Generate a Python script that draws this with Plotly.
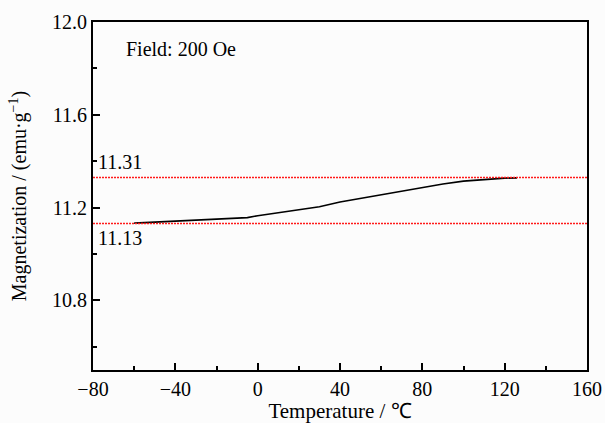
import plotly.graph_objects as go

temperature = [-60, -50, -40, -30, -20, -10, -5, 0, 10, 20, 30, 40, 50, 60, 70, 80, 90, 100, 110, 120, 126]
magnetization = [11.133, 11.137, 11.140, 11.144, 11.148, 11.154, 11.157, 11.165, 11.178, 11.189,
                 11.204, 11.224, 11.240, 11.257, 11.273, 11.289, 11.302, 11.314, 11.322, 11.327, 11.328]
ref_levels = [11.33, 11.131]
ref_labels = ["11.31", "11.13"]
field_label = "Field: 200 Oe"

font_family = "Liberation Serif"

fig = go.Figure()
fig.add_trace(go.Scatter(x=temperature, y=magnetization, mode="lines",
                         line=dict(color="black", width=1.6), showlegend=False))

for lvl in ref_levels:
    fig.add_shape(type="line", xref="paper", x0=0, x1=1, yref="y", y0=lvl, y1=lvl,
                  line=dict(color="#ff1a1a", width=1.5, dash="2px,1px"))

fig.add_annotation(x=-78.5, y=ref_levels[0], text=ref_labels[0], showarrow=False,
                   xanchor="left", yanchor="bottom", yshift=2,
                   font=dict(family=font_family, size=20, color="black"))
fig.add_annotation(x=-78.5, y=ref_levels[1], text=ref_labels[1], showarrow=False,
                   xanchor="left", yanchor="top", yshift=-1,
                   font=dict(family=font_family, size=20, color="black"))
fig.add_annotation(xref="paper", yref="paper", x=0.063, y=0.96, text=field_label,
                   showarrow=False, xanchor="left", yanchor="top",
                   font=dict(family=font_family, size=20, color="black"))

axis_common = dict(showline=True, linecolor="black", linewidth=2, mirror=True,
                   ticks="inside", ticklen=7, tickwidth=2, tickcolor="black",
                   showgrid=False, zeroline=False, automargin=False,
                   tickfont=dict(family=font_family, size=20, color="black"))

fig.update_xaxes(range=[-80, 160], tickmode="linear", tick0=-80, dtick=40,
                 minor=dict(ticks="inside", ticklen=4, tickwidth=1.5, tickcolor="black", dtick=20),
                 title=dict(text="Temperature / ℃", standoff=4,
                            font=dict(family=font_family, size=21, color="black")),
                 **axis_common)
fig.update_yaxes(range=[10.5, 12.0], tickmode="linear", tick0=0.4, dtick=0.4, tickformat=".1f",
                 minor=dict(ticks="inside", ticklen=4, tickwidth=1.5, tickcolor="black", dtick=0.2),
                 title=dict(text="Magnetization / (emu·g<sup>−1</sup>)", standoff=20,
                            font=dict(family=font_family, size=20, color="black")),
                 **axis_common)

fig.update_layout(width=605, height=423, margin=dict(l=93, r=18, t=22, b=53),
                  paper_bgcolor="#fcfcfc", plot_bgcolor="#fcfcfc")

fig.write_html("out.html")
